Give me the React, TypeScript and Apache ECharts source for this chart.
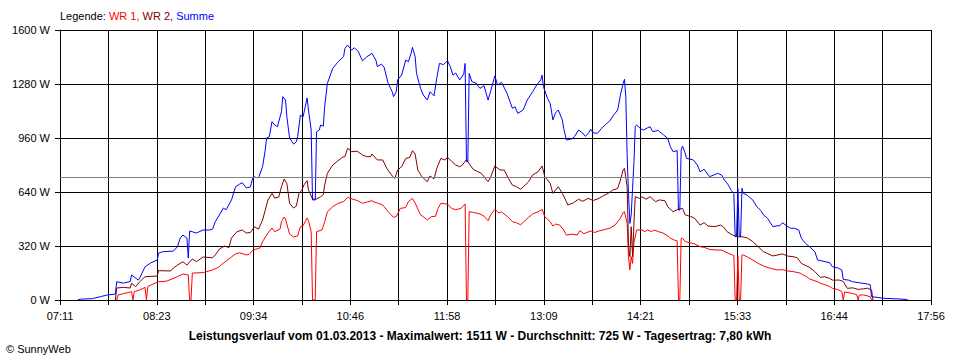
import React, { useEffect, useRef } from "react";
import * as echarts from "echarts";

// ---- data ----
const START_TIME = "07:11";
const END_TIME = "17:56";
const X_TICK_COUNT = 18;
const Y_MAX = 1600;
const Y_STEP = 320;
const AVERAGE_W = 725;

const legendParts = ["Legende: ", "WR 1, ", "WR 2, ", "Summe"];
const bottomTitle =
  "Leistungsverlauf vom 01.03.2013 - Maximalwert: 1511 W - Durchschnitt: 725 W - Tagesertrag: 7,80 kWh";
const copyright = "© SunnyWeb";
const seriesNames = ["WR 1", "WR 2", "Summe"];

const wr1: [string, number][] = [
  ["07:53", 0], ["07:54", 30], ["07:58", 38], ["08:04", 49], ["08:05", 0], ["08:06", 50],
  ["08:10", 59], ["08:14", 75], ["08:15", 0], ["08:16", 80], ["08:20", 95], ["08:24", 108],
  ["08:30", 112], ["08:38", 138], ["08:42", 154], ["08:46", 148], ["08:47", 0], ["08:48", 0],
  ["08:49", 160], ["08:57", 162], ["09:04", 178], ["09:08", 192], ["09:12", 219], ["09:17", 249],
  ["09:21", 273], ["09:24", 280], ["09:29", 267], ["09:31", 270], ["09:34", 296], ["09:39", 308],
  ["09:41", 346], ["09:45", 397], ["09:48", 427], ["09:50", 405], ["09:54", 421], ["09:55", 464],
  ["09:57", 492], ["09:58", 480], ["10:01", 391], ["10:04", 373], ["10:07", 380], ["10:09", 434],
  ["10:11", 440], ["10:14", 486], ["10:15", 470], ["10:17", 405], ["10:18", 0], ["10:20", 0],
  ["10:21", 405], ["10:25", 415], ["10:27", 464], ["10:29", 523], ["10:33", 553], ["10:37", 573],
  ["10:41", 583], ["10:44", 608], ["10:48", 597], ["10:51", 590], ["10:55", 573], ["10:58", 580],
  ["11:02", 588], ["11:04", 580], ["11:06", 575], ["11:10", 563], ["11:14", 523], ["11:18", 490],
  ["11:20", 494], ["11:23", 543], ["11:27", 548], ["11:29", 583], ["11:32", 602], ["11:34", 575],
  ["11:38", 504], ["11:40", 494], ["11:43", 474], ["11:46", 494], ["11:49", 496], ["11:51", 543],
  ["11:53", 573], ["11:58", 568], ["12:01", 543], ["12:04", 535], ["12:08", 543], ["12:11", 569],
  ["12:12", 0], ["12:13", 0], ["12:14", 523], ["12:18", 518], ["12:22", 510], ["12:25", 497],
  ["12:28", 470], ["12:30", 505], ["12:33", 537], ["12:36", 516], ["12:38", 522], ["12:43", 490],
  ["12:46", 464], ["12:49", 458], ["12:52", 446], ["12:54", 460], ["12:58", 490], ["13:01", 510],
  ["13:05", 523], ["13:08", 537], ["13:10", 494], ["13:14", 464], ["13:16", 438], ["13:18", 450],
  ["13:21", 444], ["13:24", 415], ["13:26", 385], ["13:30", 390], ["13:34", 385], ["13:36", 411],
  ["13:39", 393], ["13:44", 409], ["13:47", 400], ["13:50", 409], ["13:55", 419], ["13:58", 425],
  ["14:02", 444], ["14:06", 484], ["14:08", 518], ["14:09", 523], ["14:11", 454], ["14:12", 257],
  ["14:13", 178], ["14:14", 257], ["14:15", 217], ["14:16", 340], ["14:18", 415], ["14:22", 415],
  ["14:24", 405], ["14:26", 415], ["14:29", 405], ["14:31", 415], ["14:34", 405], ["14:37", 399],
  ["14:42", 375], ["14:43", 366], ["14:46", 355], ["14:48", 350], ["14:49", 0], ["14:50", 0],
  ["14:51", 366], ["14:52", 366], ["14:54", 346], ["14:58", 338], ["15:01", 332], ["15:05", 316],
  ["15:08", 312], ["15:12", 300], ["15:17", 296], ["15:21", 296], ["15:25", 280], ["15:29", 267],
  ["15:30", 265], ["15:31", 0], ["15:32", 0], ["15:33", 262], ["15:34", 0], ["15:35", 0],
  ["15:36", 267], ["15:37", 267], ["15:40", 255], ["15:44", 237], ["15:48", 217], ["15:52", 201],
  ["15:57", 188], ["16:02", 178], ["16:06", 180], ["16:10", 172], ["16:14", 168], ["16:19", 160],
  ["16:21", 150], ["16:24", 138], ["16:26", 125], ["16:32", 108], ["16:34", 100], ["16:38", 89],
  ["16:41", 80], ["16:43", 69], ["16:47", 62], ["16:50", 50], ["16:51", 0], ["16:52", 48],
  ["16:58", 38], ["17:01", 32], ["17:02", 0], ["17:03", 30], ["17:06", 30], ["17:11", 20],
  ["17:12", 0],
];

const wr2: [string, number][] = [
  ["07:52", 0], ["07:53", 71], ["07:58", 75], ["08:03", 71], ["08:04", 99], ["08:07", 79],
  ["08:10", 108], ["08:14", 138], ["08:23", 142], ["08:24", 174], ["08:33", 172], ["08:35", 190],
  ["08:38", 207], ["08:42", 227], ["08:45", 207], ["08:49", 243], ["08:52", 227], ["08:57", 255],
  ["09:04", 250], ["09:06", 267], ["09:09", 302], ["09:13", 320], ["09:16", 310], ["09:18", 367],
  ["09:22", 405], ["09:26", 415], ["09:29", 397], ["09:32", 400], ["09:35", 434], ["09:38", 420],
  ["09:41", 474], ["09:43", 533], ["09:45", 593], ["09:48", 632], ["09:50", 604], ["09:53", 610],
  ["09:55", 671], ["09:57", 717], ["09:59", 690], ["10:01", 573], ["10:04", 545], ["10:06", 557],
  ["10:08", 632], ["10:10", 650], ["10:12", 687], ["10:14", 707], ["10:15", 652], ["10:18", 598],
  ["10:21", 598], ["10:24", 612], ["10:26", 625], ["10:27", 681], ["10:29", 751], ["10:33", 800],
  ["10:36", 820], ["10:40", 845], ["10:42", 850], ["10:44", 899], ["10:47", 879], ["10:51", 882],
  ["10:55", 859], ["10:58", 850], ["11:01", 849], ["11:02", 865], ["11:06", 830], ["11:10", 830],
  ["11:13", 780], ["11:17", 735], ["11:19", 721], ["11:21", 770], ["11:24", 790], ["11:27", 839],
  ["11:30", 845], ["11:32", 885], ["11:34", 865], ["11:36", 770], ["11:39", 731], ["11:43", 701],
  ["11:45", 735], ["11:48", 718], ["11:50", 780], ["11:53", 839], ["11:56", 830], ["11:58", 845],
  ["12:01", 822], ["12:04", 800], ["12:07", 790], ["12:09", 800], ["12:12", 833], ["12:14", 808],
  ["12:17", 774], ["12:20", 762], ["12:23", 751], ["12:28", 701], ["12:30", 730], ["12:33", 794],
  ["12:37", 770], ["12:40", 770], ["12:43", 721], ["12:46", 681], ["12:49", 672], ["12:52", 656],
  ["12:54", 670], ["12:58", 701], ["13:01", 741], ["13:05", 760], ["13:08", 794], ["13:10", 731],
  ["13:14", 691], ["13:16", 632], ["13:20", 671], ["13:23", 632], ["13:26", 583], ["13:27", 563],
  ["13:31", 575], ["13:35", 597], ["13:38", 585], ["13:42", 602], ["13:46", 590], ["13:50", 602],
  ["13:53", 616], ["13:57", 632], ["14:00", 650], ["14:04", 662], ["14:06", 711], ["14:08", 770],
  ["14:09", 780], ["14:11", 671], ["14:12", 320], ["14:13", 257], ["14:14", 434], ["14:15", 257],
  ["14:16", 450], ["14:17", 612], ["14:20", 602], ["14:22", 612], ["14:25", 597], ["14:28", 612],
  ["14:32", 583], ["14:35", 593], ["14:39", 588], ["14:41", 553], ["14:45", 523], ["14:48", 535],
  ["14:52", 543], ["14:54", 504], ["14:58", 495], ["15:01", 484], ["15:05", 444], ["15:08", 458],
  ["15:11", 438], ["15:16", 435], ["15:20", 444], ["15:22", 435], ["15:25", 405], ["15:29", 385],
  ["15:33", 375], ["15:36", 375], ["15:40", 368], ["15:44", 346], ["15:48", 316], ["15:52", 286],
  ["15:55", 275], ["15:59", 261], ["16:02", 266], ["16:06", 273], ["16:10", 260], ["16:14", 257],
  ["16:17", 250], ["16:20", 217], ["16:24", 201], ["16:26", 194], ["16:30", 168], ["16:34", 134],
  ["16:37", 138], ["16:41", 128], ["16:43", 118], ["16:48", 118], ["16:51", 110], ["16:54", 69],
  ["16:58", 72], ["17:02", 63], ["17:06", 66], ["17:09", 70], ["17:12", 59], ["17:13", 0],
];

const summe: [string, number][] = [
  ["07:24", 0], ["07:26", 5], ["07:35", 8], ["07:41", 20], ["07:46", 30], ["07:52", 35],
  ["07:53", 108], ["07:58", 100], ["08:03", 110], ["08:04", 148], ["08:09", 118], ["08:10", 130],
  ["08:14", 197], ["08:18", 219], ["08:23", 237], ["08:24", 278], ["08:27", 286], ["08:35", 290],
  ["08:38", 316], ["08:40", 367], ["08:42", 385], ["08:45", 367], ["08:46", 249], ["08:47", 409],
  ["08:52", 397], ["08:57", 415], ["09:02", 415], ["09:04", 420], ["09:06", 464], ["09:09", 504],
  ["09:12", 545], ["09:14", 535], ["09:18", 593], ["09:21", 671], ["09:24", 687], ["09:26", 695],
  ["09:29", 664], ["09:32", 670], ["09:34", 731], ["09:38", 723], ["09:41", 790], ["09:43", 889],
  ["09:44", 960], ["09:46", 968], ["09:48", 1057], ["09:50", 1037], ["09:52", 1027], ["09:55", 1116],
  ["09:56", 1205], ["09:58", 1185], ["09:59", 1086], ["10:01", 960], ["10:04", 924], ["10:06", 938],
  ["10:07", 968], ["10:09", 1096], ["10:11", 1085], ["10:14", 1197], ["10:15", 1126], ["10:17", 1007],
  ["10:18", 593], ["10:20", 593], ["10:21", 997], ["10:23", 1007], ["10:24", 1037], ["10:26", 1030],
  ["10:27", 1146], ["10:29", 1284], ["10:33", 1373], ["10:37", 1412], ["10:41", 1442], ["10:42", 1491],
  ["10:44", 1511], ["10:47", 1481], ["10:49", 1495], ["10:52", 1471], ["10:53", 1452], ["10:55", 1418],
  ["10:58", 1440], ["11:02", 1462], ["11:05", 1420], ["11:06", 1383], ["11:09", 1398], ["11:11", 1380],
  ["11:14", 1284], ["11:17", 1234], ["11:18", 1205], ["11:20", 1234], ["11:21", 1304], ["11:24", 1333],
  ["11:27", 1422], ["11:29", 1412], ["11:31", 1462], ["11:32", 1497], ["11:34", 1442], ["11:35", 1343],
  ["11:38", 1254], ["11:40", 1215], ["11:43", 1185], ["11:45", 1234], ["11:48", 1210], ["11:50", 1314],
  ["11:52", 1402], ["11:55", 1395], ["11:58", 1418], ["12:00", 1383], ["12:02", 1333], ["12:04", 1345],
  ["12:07", 1304], ["12:10", 1340], ["12:11", 1402], ["12:12", 820], ["12:13", 820], ["12:14", 1343],
  ["12:16", 1294], ["12:19", 1285], ["12:22", 1254], ["12:25", 1270], ["12:28", 1185], ["12:30", 1240],
  ["12:33", 1328], ["12:35", 1274], ["12:38", 1290], ["12:42", 1225], ["12:46", 1136], ["12:48", 1145],
  ["12:50", 1106], ["12:54", 1126], ["12:57", 1185], ["13:01", 1234], ["13:04", 1274], ["13:07", 1304],
  ["13:08", 1333], ["13:09", 1264], ["13:12", 1195], ["13:14", 1165], ["13:16", 1067], ["13:18", 1110],
  ["13:20", 1126], ["13:23", 1067], ["13:24", 1017], ["13:26", 948], ["13:30", 955], ["13:32", 968],
  ["13:35", 1007], ["13:38", 990], ["13:40", 970], ["13:42", 985], ["13:44", 1011], ["13:46", 990],
  ["13:49", 988], ["13:52", 1017], ["13:56", 1047], ["13:58", 1060], ["14:01", 1096], ["14:04", 1126],
  ["14:06", 1215], ["14:08", 1284], ["14:09", 1308], ["14:10", 1205], ["14:11", 849], ["14:12", 632],
  ["14:13", 454], ["14:14", 504], ["14:15", 662], ["14:16", 810], ["14:17", 1027], ["14:18", 1037],
  ["14:21", 1015], ["14:23", 1007], ["14:26", 1020], ["14:28", 1027], ["14:30", 997], ["14:34", 1005],
  ["14:35", 997], ["14:38", 978], ["14:41", 958], ["14:43", 908], ["14:45", 879], ["14:48", 885],
  ["14:49", 533], ["14:50", 533], ["14:51", 889], ["14:52", 912], ["14:54", 870], ["14:55", 839],
  ["15:00", 830], ["15:03", 800], ["15:05", 760], ["15:08", 775], ["15:12", 731], ["15:15", 740],
  ["15:18", 751], ["15:21", 740], ["15:23", 711], ["15:26", 681], ["15:28", 650], ["15:30", 632],
  ["15:31", 375], ["15:32", 375], ["15:33", 660], ["15:34", 375], ["15:35", 375], ["15:36", 662],
  ["15:37", 632], ["15:40", 620], ["15:44", 593], ["15:47", 553], ["15:50", 530], ["15:52", 504],
  ["15:55", 484], ["15:57", 458], ["15:59", 434], ["16:02", 440], ["16:04", 440], ["16:06", 458],
  ["16:09", 440], ["16:12", 425], ["16:15", 425], ["16:18", 415], ["16:20", 366], ["16:23", 336],
  ["16:26", 316], ["16:30", 286], ["16:32", 237], ["16:36", 230], ["16:41", 221], ["16:43", 197],
  ["16:47", 190], ["16:50", 178], ["16:51", 122], ["16:55", 118], ["16:58", 108], ["17:03", 102],
  ["17:09", 95], ["17:11", 90], ["17:12", 20], ["17:21", 10], ["17:33", 6], ["17:38", 3],
  ["17:39", 0],
];

// ---- helpers ----
const toMin = (t: string) => {
  const [h, m] = t.split(":").map(Number);
  return h * 60 + m;
};
const START = toMin(START_TIME);
const SPAN = toMin(END_TIME) - START;
const STEP = SPAN / X_TICK_COUNT;
const pad = (n: number) => (n < 10 ? "0" + n : "" + n);
const toPoints = (d: [string, number][]) => d.map(([t, v]) => [toMin(t) - START, v]);

const FONT = "'Liberation Sans', Arial, sans-serif";

export default function App() {
  const ref = useRef<HTMLDivElement>(null);
  useEffect(() => {
    document.body.style.margin = "0";
    if (!ref.current) return;
    const chart = echarts.init(ref.current, undefined, { renderer: "svg" });
    const mkLine = (name: string, data: [string, number][], color: string, extra: any = {}) => ({
      name,
      type: "line",
      data: toPoints(data),
      showSymbol: false,
      symbol: "none",
      lineStyle: { color, width: 1 },
      itemStyle: { color },
      silent: true,
      ...extra,
    });
    const rs = (color: string) => ({ color, fontSize: 11, fontFamily: FONT, fontWeight: "normal" });
    chart.setOption({
      animation: false,
      backgroundColor: "#ffffff",
      textStyle: { fontFamily: FONT },
      title: [
        {
          text: `{k|${legendParts[0]}}{a|${legendParts[1]}}{b|${legendParts[2]}}{c|${legendParts[3]}}`,
          left: 60,
          top: 10,
          padding: 0,
          textStyle: {
            fontWeight: "normal",
            fontSize: 11,
            rich: { k: rs("#000"), a: rs("#ff0000"), b: rs("#800000"), c: rs("#0000ff") },
          },
        },
        {
          text: bottomTitle,
          left: "center",
          top: 330,
          padding: 0,
          textStyle: { color: "#000", fontSize: 12, fontWeight: "bold", fontFamily: FONT },
        },
        {
          text: copyright,
          left: 6,
          top: 343,
          padding: 0,
          textStyle: { color: "#000", fontSize: 11, fontWeight: "normal", fontFamily: FONT },
        },
      ],
      grid: { left: 60, right: 29, top: 30, bottom: 60, containLabel: false },
      xAxis: {
        type: "value",
        min: 0,
        max: SPAN,
        interval: STEP,
        axisLine: { show: true, lineStyle: { color: "#000", width: 1 } },
        axisTick: { show: true, length: 5, lineStyle: { color: "#000" } },
        splitLine: { show: true, lineStyle: { color: "#000", width: 1 } },
        axisLabel: {
          color: "#000",
          fontSize: 11,
          fontFamily: FONT,
          margin: 10,
          showMaxLabel: true,
          showMinLabel: true,
          formatter: (v: number) => {
            const idx = Math.round(v / STEP);
            if (idx % 2 !== 0) return "";
            const m = Math.round(START + v);
            return pad(Math.floor(m / 60)) + ":" + pad(m % 60);
          },
        },
      },
      yAxis: {
        type: "value",
        min: 0,
        max: Y_MAX,
        interval: Y_STEP,
        axisLine: { show: true, lineStyle: { color: "#000", width: 1 } },
        axisTick: { show: true, length: 5, lineStyle: { color: "#000" } },
        splitLine: { show: true, lineStyle: { color: "#000", width: 1 } },
        axisLabel: {
          color: "#000",
          fontSize: 11,
          fontFamily: FONT,
          margin: 10,
          formatter: (v: number) => String(Math.round(v)) + " W",
        },
      },
      series: [
        mkLine(seriesNames[0], wr1, "#ff0000", {
          markLine: {
            silent: true,
            symbol: "none",
            label: { show: false },
            lineStyle: { color: "#808080", type: "solid", width: 1 },
            data: [{ yAxis: AVERAGE_W }],
          },
        }),
        mkLine(seriesNames[1], wr2, "#800000"),
        mkLine(seriesNames[2], summe, "#0000ff"),
      ],
    });
    return () => chart.dispose();
  }, []);
  return (
    <div
      ref={ref}
      style={{ position: "absolute", left: 0, top: 0, width: 960, height: 360, background: "#fff" }}
    />
  );
}
